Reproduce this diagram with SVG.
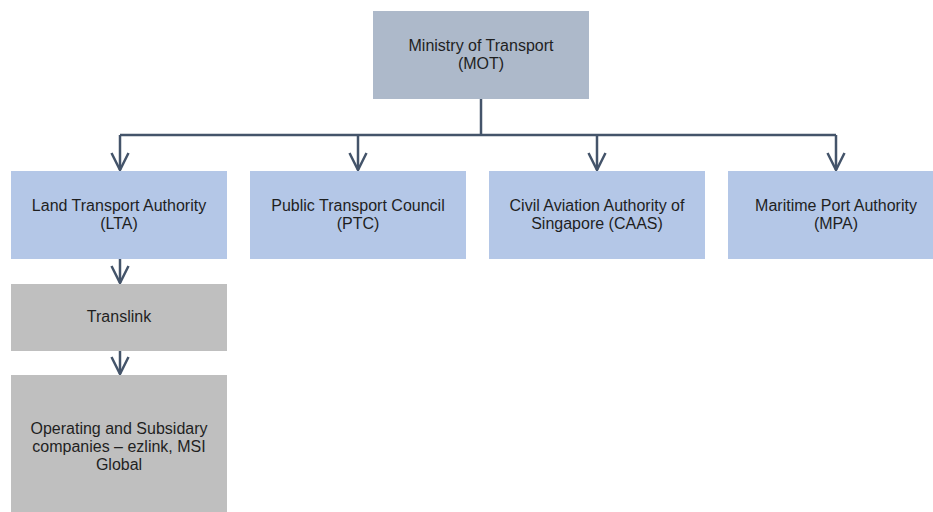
<svg xmlns="http://www.w3.org/2000/svg" width="933" height="512" viewBox="0 0 933 512">
<defs>
<style>
.t{font-family:"Liberation Sans",Arial,sans-serif;font-size:16px;fill:#1f1f1f;text-anchor:middle}
.mot{fill:#adb9ca}
.blue{fill:#b4c7e7}
.grey{fill:#bfbfbf}
.ln{stroke:#44546a;stroke-width:2.5;fill:none}
</style>
<marker id="ah" viewBox="0 0 20 20" refX="18" refY="10" markerWidth="20" markerHeight="20" markerUnits="userSpaceOnUse" orient="auto">
<path d="M1,1.5 L18,10 L1,18.5" fill="none" stroke="#44546a" stroke-width="2.5"/>
</marker>
</defs>
<rect width="933" height="512" fill="#ffffff"/>
<g id="connectors">
<path class="ln" d="M481,99 V135"/>
<path class="ln" d="M120,135 H836"/>
<path class="ln" d="M120,135 V170" marker-end="url(#ah)"/>
<path class="ln" d="M358,135 V170" marker-end="url(#ah)"/>
<path class="ln" d="M597,135 V170" marker-end="url(#ah)"/>
<path class="ln" d="M836,135 V170" marker-end="url(#ah)"/>
<path class="ln" d="M120,259 V283" marker-end="url(#ah)"/>
<path class="ln" d="M120,351 V374" marker-end="url(#ah)"/>
</g>
<g id="mot">
<rect class="mot" x="373" y="11" width="216" height="88"/>
<text class="t" x="481" y="51">Ministry of Transport</text>
<text class="t" x="481" y="69">(MOT)</text>
</g>
<g id="lta">
<rect class="blue" x="11" y="171" width="216" height="88"/>
<text class="t" x="119" y="211">Land Transport Authority</text>
<text class="t" x="119" y="229">(LTA)</text>
</g>
<g id="ptc">
<rect class="blue" x="250" y="171" width="216" height="88"/>
<text class="t" x="358" y="211">Public Transport Council</text>
<text class="t" x="358" y="229">(PTC)</text>
</g>
<g id="caas">
<rect class="blue" x="489" y="171" width="216" height="88"/>
<text class="t" x="597" y="211">Civil Aviation Authority of</text>
<text class="t" x="597" y="229">Singapore (CAAS)</text>
</g>
<g id="mpa">
<rect class="blue" x="728" y="171" width="216" height="88"/>
<text class="t" x="836" y="211">Maritime Port Authority</text>
<text class="t" x="836" y="229">(MPA)</text>
</g>
<g id="translink">
<rect class="grey" x="11" y="284" width="216" height="67"/>
<text class="t" x="119" y="322">Translink</text>
</g>
<g id="operating">
<rect class="grey" x="11" y="375" width="216" height="140"/>
<text class="t" x="119" y="434">Operating and Subsidary</text>
<text class="t" x="119" y="452">companies – ezlink, MSI</text>
<text class="t" x="119" y="470">Global</text>
</g>
</svg>
